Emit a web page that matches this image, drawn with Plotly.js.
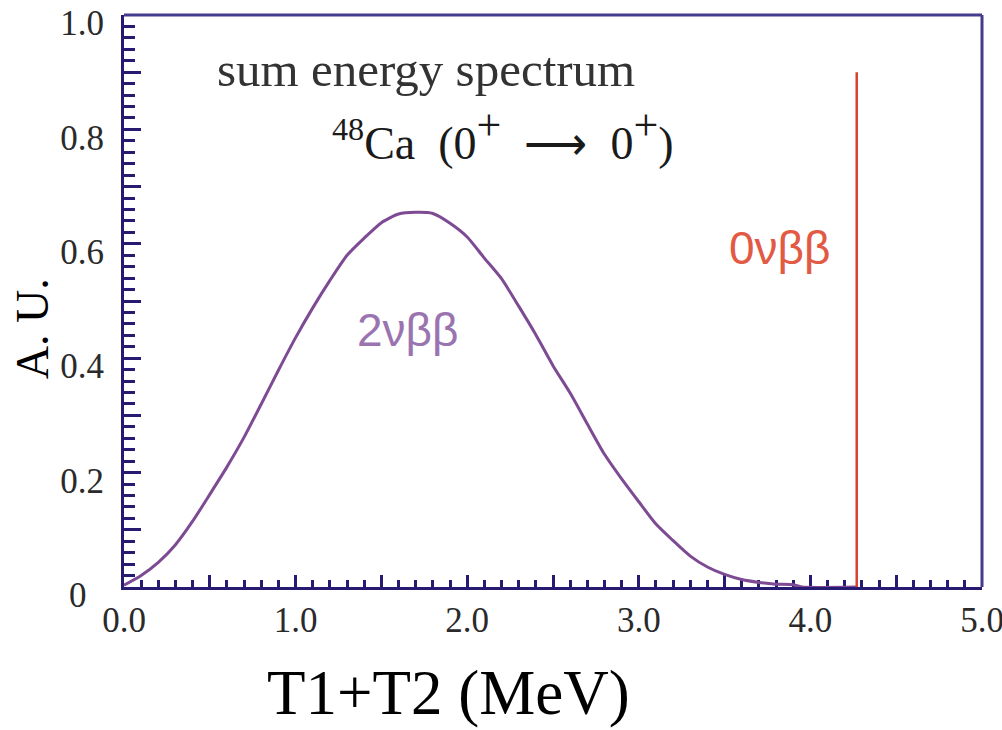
<!DOCTYPE html>
<html>
<head>
<meta charset="utf-8">
<script src="https://cdn.plot.ly/plotly-3.0.1.min.js"></script>
<style>html,body{margin:0;padding:0;background:#fff;}#chart{width:1002px;height:730px;}</style>
</head>
<body>
<div id="chart"></div>
<script>
// Two-neutrino sum energy spectrum
const energy = [0.0, 0.1, 0.2, 0.3, 0.4, 0.5, 0.6, 0.7, 0.8, 0.9,
                1.0, 1.1, 1.2, 1.3, 1.4, 1.5, 1.6, 1.7, 1.8, 1.9,
                2.0, 2.1, 2.2, 2.3, 2.4, 2.5, 2.6, 2.7, 2.8, 2.9,
                3.0, 3.1, 3.2, 3.3, 3.4, 3.5, 3.6, 3.7, 3.8, 3.9, 3.95, 4.27];
const rate2nu = [0.003, 0.020, 0.043, 0.074, 0.115, 0.162, 0.210, 0.262, 0.320, 0.379,
                 0.436, 0.488, 0.536, 0.580, 0.610, 0.637, 0.652, 0.655, 0.653, 0.636,
                 0.612, 0.575, 0.539, 0.491, 0.441, 0.387, 0.339, 0.285, 0.232, 0.189,
                 0.149, 0.110, 0.081, 0.054, 0.035, 0.022, 0.013, 0.008, 0.005, 0.004, 0.0, 0.0];
// Zero-neutrino line at Q value
const qValue = [4.27, 4.27];
const lineZeroNu = [0.0, 0.90];

const xTickVals = [0, 1, 2, 3, 4, 5];
const xTickText = ['0.0', '1.0', '2.0', '3.0', '4.0', '5.0'];
const yTickVals = [0, 0.2, 0.4, 0.6, 0.8, 1.0];
const yTickText = ['0\u00a0\u00a0', '0.2', '0.4', '0.6', '0.8', '1.0'];

const axisColor = '#261a73';
const frameColor = '#433b8c';
const serif = 'Liberation Serif, Times New Roman, serif';
const sans = 'Liberation Sans, Arial, sans-serif';

const traces = [
  {
    x: energy, y: rate2nu, type: 'scatter', mode: 'lines',
    line: {color: '#7e4a93', width: 3, shape: 'spline', smoothing: 0.6},
    hoverinfo: 'skip'
  },
  {
    x: qValue, y: lineZeroNu, type: 'scatter', mode: 'lines',
    line: {color: '#d8412c', width: 2.5},
    hoverinfo: 'skip'
  },
  // empty trace that only carries the long intermediate ticks
  {x: [], y: [], type: 'scatter', mode: 'lines', xaxis: 'x2', yaxis: 'y2', hoverinfo: 'skip'}
];

const big = s => '<span style="font-size:44px">' + s + '</span>';

const layout = {
  width: 1002, height: 730,
  margin: {l: 123.5, r: 19.5, t: 15, b: 143, pad: 0},
  paper_bgcolor: '#ffffff', plot_bgcolor: '#ffffff',
  showlegend: false,
  xaxis: {
    range: [0, 5], tickmode: 'array', tickvals: xTickVals, ticktext: xTickText,
    ticks: 'inside', ticklen: 12, tickwidth: 3, tickcolor: axisColor,
    minor: {tickmode: 'linear', tick0: 0, dtick: 0.1, ticks: 'inside', ticklen: 7, tickwidth: 3, tickcolor: axisColor, showgrid: false},
    showline: true, linecolor: axisColor, linewidth: 3, showgrid: false, zeroline: false,
    tickfont: {family: serif, size: 35, color: '#2a2a2a'},
    ticklabelstandoff: 0, ticklabeloverflow: 'allow', layer: 'below traces'
  },
  yaxis: {
    range: [0, 1], tickmode: 'array', tickvals: yTickVals, ticktext: yTickText,
    ticks: 'inside', ticklen: 17, tickwidth: 3, tickcolor: axisColor,
    minor: {tickmode: 'linear', tick0: 0, dtick: 0.02, ticks: 'inside', ticklen: 11, tickwidth: 3, tickcolor: axisColor, showgrid: false},
    showline: true, linecolor: axisColor, linewidth: 3, showgrid: false, zeroline: false,
    tickfont: {family: serif, size: 35, color: '#2a2a2a'},
    ticklabelstandoff: 10, ticklabelshift: 8, ticklabeloverflow: 'allow', layer: 'below traces'
  },
  xaxis2: {
    overlaying: 'x', anchor: 'y2', range: [0, 5], tickmode: 'linear', tick0: 0, dtick: 0.5,
    ticks: 'inside', ticklen: 12, tickwidth: 3, tickcolor: axisColor, side: 'bottom',
    showticklabels: false, showline: false, showgrid: false, zeroline: false, layer: 'below traces'
  },
  yaxis2: {
    overlaying: 'y', anchor: 'x2', range: [0, 1], tickmode: 'linear', tick0: 0, dtick: 0.1,
    ticks: 'inside', ticklen: 17, tickwidth: 3, tickcolor: axisColor, side: 'left',
    showticklabels: false, showline: false, showgrid: false, zeroline: false, layer: 'below traces'
  },
  shapes: [
    {type: 'line', xref: 'paper', yref: 'paper', x0: 0, x1: 1, y0: 1, y1: 1, line: {color: frameColor, width: 3}},
    {type: 'line', xref: 'paper', yref: 'paper', x0: 1, x1: 1, y0: 0, y1: 1, line: {color: frameColor, width: 3}}
  ],
  annotations: [
    {text: 'sum energy spectrum', x: 0.533, y: 0.905, xref: 'x', yref: 'y', xanchor: 'left', yanchor: 'middle',
     showarrow: false, font: {family: serif, size: 49, color: '#333333'}},
    {text: '<sup>48</sup>Ca\u00a0\u00a0(0<sup>' + big('+') + '</sup>\u00a0\u00a0' + big('\u27f6') + '\u00a0\u00a00<sup>' + big('+') + '</sup>)',
     x: 1.202, y: 0.79, xref: 'x', yref: 'y',
     xanchor: 'left', yanchor: 'middle', showarrow: false, font: {family: serif, size: 46, color: '#1a1a1a'}},
    {text: '2\u03bd\u03b2\u03b2', x: 1.656, y: 0.449, xref: 'x', yref: 'y', xanchor: 'center', yanchor: 'middle',
     showarrow: false, font: {family: sans, size: 46, color: '#9a74b0'}},
    {text: '0\u03bd\u03b2\u03b2', x: 3.821, y: 0.593, xref: 'x', yref: 'y', xanchor: 'center', yanchor: 'middle',
     showarrow: false, font: {family: sans, size: 46, color: '#e25a44'}},
    {text: 'T1+T2 (MeV)', x: 0.378, y: -0.186, xref: 'paper', yref: 'paper', xanchor: 'center', yanchor: 'middle',
     showarrow: false, font: {family: serif, size: 63, color: '#000000'}},
    {text: 'A. U.', x: -0.107, y: 0.451, xref: 'paper', yref: 'paper', xanchor: 'center', yanchor: 'middle', textangle: -90,
     showarrow: false, font: {family: serif, size: 46, color: '#000000'}}
  ]
};

Plotly.newPlot('chart', traces, layout, {staticPlot: true, displayModeBar: false});
</script>
</body>
</html>
